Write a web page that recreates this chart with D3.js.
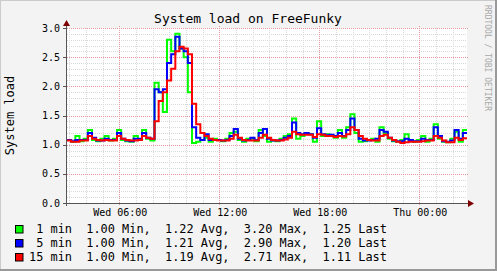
<!DOCTYPE html>
<html>
<head>
<meta charset="utf-8">
<script src="https://cdn.jsdelivr.net/npm/d3@7"></script>
<style>
  html, body { margin: 0; padding: 0; background: #f3f3f3; }
  svg text { font-family: "DejaVu Sans Mono", monospace; }
</style>
</head>
<body>
<svg id="chart" width="497" height="271"></svg>
<script>
// data: 15 minute samples starting Wed 02:52
const START      = Date.UTC(2024, 0, 3, 2, 52);
const STEP_MIN   = 15;
const seriesNames = [" 1 min", " 5 min", "15 min"];
const seriesColors = ["#00ff00", "#0000ff", "#ff0000"];

const load1 = [1.08,1.05,1.15,1.06,1.10,1.25,1.08,1.06,1.10,1.15,1.07,1.10,1.25,1.08,1.06,1.05,
  1.15,1.08,1.25,1.10,1.07,2.06,1.90,1.56,2.80,2.60,2.90,2.65,2.50,1.90,1.03,1.05,
  1.08,1.12,1.05,1.10,1.08,1.06,1.10,1.20,1.22,1.08,1.05,1.10,1.10,1.06,1.25,1.15,
  1.05,1.07,1.06,1.10,1.15,1.18,1.45,1.10,1.15,1.20,1.18,1.05,1.40,1.15,1.18,1.15,
  1.12,1.25,1.12,1.30,1.52,1.20,1.05,1.06,1.08,1.10,1.05,1.30,1.20,1.10,1.06,1.05,
  1.08,1.18,1.08,1.05,1.08,1.15,1.05,1.10,1.35,1.10,1.05,1.04,1.10,1.22,1.05,1.25];
const load5 = [1.08,1.06,1.08,1.08,1.08,1.20,1.12,1.07,1.07,1.10,1.08,1.08,1.20,1.10,1.07,1.06,
  1.10,1.10,1.20,1.12,1.10,1.95,1.90,1.95,2.40,2.55,2.85,2.65,2.60,2.40,1.30,1.12,
  1.08,1.18,1.08,1.08,1.08,1.07,1.08,1.15,1.27,1.10,1.07,1.08,1.12,1.08,1.20,1.27,
  1.10,1.07,1.07,1.08,1.12,1.15,1.38,1.20,1.18,1.20,1.18,1.12,1.28,1.18,1.16,1.17,
  1.15,1.20,1.15,1.25,1.45,1.25,1.10,1.07,1.07,1.08,1.10,1.25,1.22,1.12,1.07,1.06,
  1.06,1.10,1.08,1.06,1.06,1.10,1.08,1.08,1.30,1.15,1.06,1.05,1.07,1.25,1.10,1.20];
const load15 = [1.07,1.05,1.05,1.07,1.07,1.15,1.10,1.08,1.07,1.08,1.07,1.07,1.15,1.10,1.08,1.07,
  1.07,1.08,1.15,1.12,1.10,1.40,1.75,1.90,2.10,2.30,2.60,2.68,2.65,2.55,1.70,1.35,
  1.20,1.15,1.10,1.08,1.07,1.07,1.07,1.10,1.17,1.12,1.08,1.07,1.07,1.07,1.12,1.17,
  1.12,1.08,1.07,1.07,1.09,1.12,1.22,1.18,1.17,1.17,1.17,1.13,1.18,1.17,1.15,1.15,
  1.13,1.15,1.14,1.18,1.30,1.25,1.15,1.10,1.08,1.07,1.07,1.15,1.17,1.12,1.08,1.05,
  1.03,1.04,1.05,1.05,1.05,1.06,1.07,1.07,1.15,1.12,1.07,1.04,1.04,1.12,1.08,1.11];

// legend stats as printed by rrdtool
const legendMin  = ["1.00", "1.00", "1.00"];
const legendAvg  = ["1.22", "1.21", "1.19"];
const legendMax  = ["3.20", "2.90", "2.71"];
const legendLast = ["1.25", "1.20", "1.11"];

const yTicksMajor = [0, 0.5, 1.0, 1.5, 2.0, 2.5, 3.0];

const svg = d3.select("#chart"),
      width = 497, height = 271,
      x0 = 67, x1 = 467, yTop = 28, yBot = 203;

const x = d3.scaleUtc()
  .domain([new Date(START), new Date(START + 24 * 3600e3)])
  .range([x0, x1]);
const y = d3.scaleLinear().domain([0, 3]).range([yBot, yTop]);

// background + 3d frame
svg.append("rect").attr("width", width).attr("height", height).attr("fill", "#f3f3f3");
svg.append("path").attr("d", `M0,${height}V0H${width}`).attr("fill", "none")
  .attr("stroke", "#cbcbcb").attr("stroke-width", 2);
svg.append("path").attr("d", `M0,${height - 1}H${width - 1}V0`).attr("fill", "none")
  .attr("stroke", "#999").attr("stroke-width", 2);

// canvas
svg.append("rect").attr("x", x0).attr("y", yTop).attr("width", x1 - x0).attr("height", yBot - yTop)
  .attr("fill", "#fff");

// grid
const grid = svg.append("g").attr("shape-rendering", "crispEdges");
const minorY = d3.range(0, 3.01, 0.1).filter(v => Math.abs(v * 2 - Math.round(v * 2)) > 1e-6);
grid.selectAll("line.hmin").data(minorY).join("line")
  .attr("x1", x0).attr("x2", x1)
  .attr("y1", d => Math.round(y(d)) + 0.5).attr("y2", d => Math.round(y(d)) + 0.5)
  .attr("stroke", "#d9d9d9").attr("stroke-dasharray", "1,1");
const hours = x.ticks(d3.utcHour.every(1)).filter(d => d.getUTCHours() % 6 !== 0);
grid.selectAll("line.vmin").data(hours).join("line")
  .attr("x1", d => Math.round(x(d)) + 0.5).attr("x2", d => Math.round(x(d)) + 0.5)
  .attr("y1", yTop).attr("y2", yBot)
  .attr("stroke", "#d9d9d9").attr("stroke-dasharray", "1,1");
grid.selectAll("line.hmaj").data(yTicksMajor.slice(1)).join("line")
  .attr("x1", x0).attr("x2", x1 + 2)
  .attr("y1", d => Math.round(y(d)) + 0.5).attr("y2", d => Math.round(y(d)) + 0.5)
  .attr("stroke", "#e49a9a").attr("stroke-dasharray", "1,1");
const majorX = x.ticks(d3.utcHour.every(6));
grid.selectAll("line.vmaj").data(majorX).join("line")
  .attr("x1", d => Math.round(x(d)) + 0.5).attr("x2", d => Math.round(x(d)) + 0.5)
  .attr("y1", yTop - 2).attr("y2", yBot + 3)
  .attr("stroke", "#e49a9a").attr("stroke-dasharray", "1,1");

// lines
svg.append("clipPath").attr("id", "clip").append("rect")
  .attr("x", x0).attr("y", yTop - 2).attr("width", x1 - x0).attr("height", yBot - yTop + 2);
const line = d3.line()
  .x(d => x(d.t)).y(d => y(d.v))
  .curve(d3.curveStepAfter);
const toPoints = arr => {
  const pts = arr.map((v, i) => ({ t: new Date(START + i * STEP_MIN * 60e3), v }));
  pts.push({ t: new Date(START + arr.length * STEP_MIN * 60e3), v: arr[arr.length - 1] });
  return pts;
};
[load1, load5, load15].forEach((arr, i) => {
  svg.append("path")
    .attr("clip-path", "url(#clip)")
    .attr("d", line(toPoints(arr)))
    .attr("fill", "none")
    .attr("stroke", seriesColors[i])
    .attr("stroke-width", 2)
    .attr("stroke-linejoin", "miter");
});

// axes
const axis = svg.append("g").attr("shape-rendering", "crispEdges");
axis.append("line").attr("x1", x0 - 3).attr("x2", x1 + 3).attr("y1", yBot + 0.5).attr("y2", yBot + 0.5)
  .attr("stroke", "#555");
axis.append("line").attr("x1", x0 - 0.5).attr("x2", x0 - 0.5).attr("y1", yBot + 3).attr("y2", yTop - 3)
  .attr("stroke", "#555");
axis.selectAll("line.yt").data(yTicksMajor).join("line")
  .attr("x1", x0 - 4).attr("x2", x0)
  .attr("y1", d => Math.round(y(d)) + 0.5).attr("y2", d => Math.round(y(d)) + 0.5)
  .attr("stroke", "#555");
svg.append("path").attr("d", `M${x1 + 1},${yBot - 3}L${x1 + 7},${yBot + 0.5}L${x1 + 1},${yBot + 4}Z`)
  .attr("fill", "#7f0000");
svg.append("path").attr("d", `M${x0 - 4},${yTop - 2}L${x0 - 0.5},${yTop - 8}L${x0 + 3},${yTop - 2}Z`)
  .attr("fill", "#7f0000");

// tick labels
svg.selectAll("text.yl").data(yTicksMajor).join("text")
  .attr("x", 60).attr("y", d => y(d) + 3.6)
  .attr("text-anchor", "end").style("font-size", "10px")
  .text(d3.format(".1f"));
const fmt = d3.utcFormat("%a %H:%M");
svg.selectAll("text.xl").data(majorX).join("text")
  .attr("x", d => x(d) + 1).attr("y", 216)
  .attr("text-anchor", "middle").style("font-size", "10px")
  .text(fmt);

// title & y label
svg.append("text").attr("x", 248).attr("y", 23).attr("text-anchor", "middle")
  .style("font-size", "13px").text("System load on FreeFunky");
svg.append("text").attr("transform", "translate(14,115.5) rotate(-90)")
  .attr("text-anchor", "middle").style("font-size", "12px").text("System load");

// watermark
svg.append("text").attr("transform", "translate(485,5) rotate(90)")
  .style("font-size", "8px").attr("fill", "#a8a8a8")
  .text("RRDTOOL / TOBI OETIKER");

// legend
const legend = svg.append("g");
seriesNames.forEach((name, i) => {
  const by = 233 + i * 14;
  legend.append("rect").attr("x", 15.5).attr("y", by - 7.5).attr("width", 7.5).attr("height", 7.5)
    .attr("fill", seriesColors[i]).attr("stroke", "#000");
  legend.append("text").attr("x", 29).attr("y", by)
    .attr("xml:space", "preserve").style("white-space", "pre").style("font-size", "11.9px")
    .text(`${name}  ${legendMin[i]} Min,  ${legendAvg[i]} Avg,  ${legendMax[i]} Max,  ${legendLast[i]} Last`);
});
</script>
</body>
</html>
